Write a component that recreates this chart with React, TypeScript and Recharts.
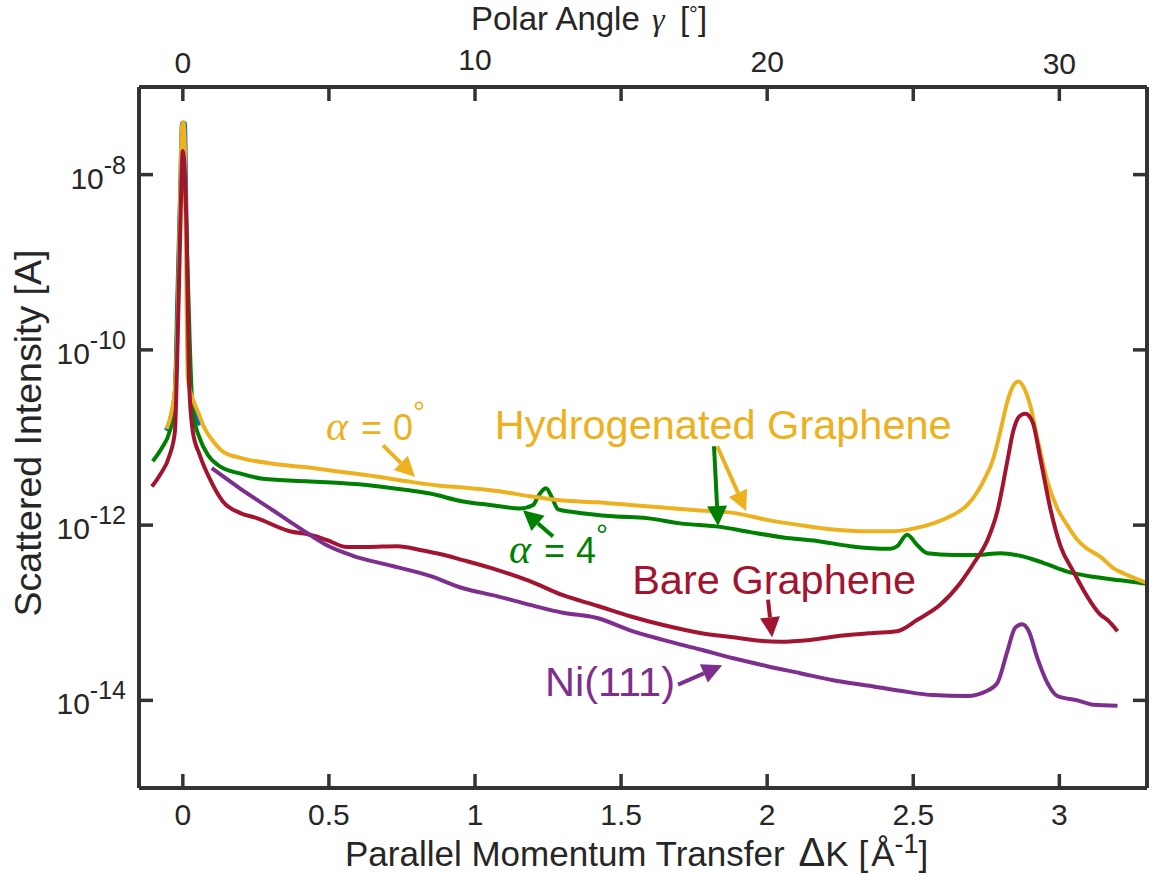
import { LineChart, Line, XAxis, YAxis, ReferenceLine, ReferenceDot } from 'recharts';

// All intensities below are log10 of the current in A
const yellowK = [-0.055, -0.038, -0.027, -0.017, -0.01, -0.003, 0.002, 0.007, 0.013, 0.017, 0.034, 0.051, 0.075, 0.103, 0.137, 0.195, 0.308, 0.425, 0.538, 0.651, 0.767, 0.88, 0.959, 1.075, 1.188, 1.301, 1.418, 1.531, 1.644, 1.76, 1.884, 2.0, 2.113, 2.226, 2.342, 2.421, 2.5, 2.568, 2.627, 2.685, 2.74, 2.774, 2.798, 2.822, 2.842, 2.86, 2.877, 2.901, 2.925, 2.959, 2.993, 3.027, 3.062, 3.096, 3.14, 3.185, 3.233, 3.3];
const yellowLog = [-10.9, -10.7, -10.44, -9.57, -8.43, -7.45, -7.4, -7.68, -9.57, -10.33, -10.56, -10.7, -10.9, -11.04, -11.16, -11.23, -11.3, -11.34, -11.39, -11.44, -11.5, -11.55, -11.57, -11.61, -11.67, -11.72, -11.74, -11.77, -11.8, -11.83, -11.86, -11.94, -12.0, -12.05, -12.07, -12.07, -12.04, -11.98, -11.9, -11.77, -11.5, -11.24, -10.93, -10.59, -10.41, -10.36, -10.42, -10.64, -11.01, -11.5, -11.81, -12.0, -12.17, -12.27, -12.36, -12.49, -12.57, -12.66];

const greenK = [-0.103, -0.072, -0.045, -0.031, -0.021, -0.01, 0, 0.014, 0.024, 0.034, 0.058, 0.086, 0.127, 0.195, 0.274, 0.425, 0.538, 0.651, 0.767, 0.846, 0.959, 1.051, 1.154, 1.199, 1.216, 1.243, 1.264, 1.284, 1.336, 1.473, 1.589, 1.702, 1.839, 1.942, 2.055, 2.171, 2.284, 2.421, 2.445, 2.479, 2.514, 2.548, 2.637, 2.719, 2.798, 2.866, 2.945, 3.027, 3.116, 3.209, 3.3];
const greenLog = [-11.27, -11.12, -10.93, -10.7, -9.95, -8.43, -7.68, -8.81, -9.95, -10.7, -11.01, -11.2, -11.33, -11.41, -11.47, -11.5, -11.52, -11.55, -11.6, -11.64, -11.73, -11.77, -11.81, -11.77, -11.67, -11.58, -11.69, -11.82, -11.85, -11.9, -11.92, -11.98, -12.02, -12.08, -12.14, -12.18, -12.24, -12.27, -12.24, -12.11, -12.23, -12.32, -12.34, -12.34, -12.32, -12.35, -12.43, -12.53, -12.59, -12.63, -12.67];

const redK = [-0.106, -0.079, -0.045, -0.027, -0.021, -0.01, 0, 0.014, 0.021, 0.034, 0.058, 0.092, 0.137, 0.195, 0.253, 0.366, 0.435, 0.493, 0.562, 0.63, 0.733, 0.822, 0.88, 0.959, 1.075, 1.188, 1.301, 1.418, 1.531, 1.644, 1.771, 1.884, 1.976, 2.045, 2.147, 2.26, 2.363, 2.445, 2.514, 2.592, 2.661, 2.712, 2.753, 2.788, 2.822, 2.842, 2.866, 2.884, 2.908, 2.935, 2.969, 3.003, 3.048, 3.106, 3.14, 3.164, 3.199];
const redLog = [-11.56, -11.43, -11.2, -10.93, -10.33, -8.81, -7.73, -8.81, -10.33, -10.93, -11.2, -11.47, -11.73, -11.86, -11.92, -12.07, -12.11, -12.17, -12.25, -12.25, -12.24, -12.29, -12.33, -12.4, -12.51, -12.64, -12.8, -12.92, -13.04, -13.14, -13.23, -13.28, -13.32, -13.33, -13.31, -13.26, -13.23, -13.21, -13.08, -12.91, -12.66, -12.41, -12.18, -11.84, -11.27, -10.93, -10.75, -10.73, -10.82, -11.24, -11.81, -12.23, -12.53, -12.87, -13.02, -13.08, -13.21];

const purpleK = [0.099, 0.195, 0.308, 0.366, 0.425, 0.493, 0.582, 0.709, 0.846, 0.959, 1.075, 1.188, 1.301, 1.418, 1.531, 1.644, 1.771, 1.884, 2.0, 2.113, 2.226, 2.342, 2.455, 2.568, 2.685, 2.753, 2.788, 2.822, 2.849, 2.873, 2.894, 2.925, 2.959, 2.993, 3.062, 3.116, 3.199];
const purpleLog = [-11.35, -11.58, -11.83, -11.96, -12.09, -12.23, -12.35, -12.46, -12.58, -12.72, -12.81, -12.91, -13.0, -13.06, -13.2, -13.31, -13.42, -13.52, -13.61, -13.69, -13.77, -13.83, -13.89, -13.94, -13.95, -13.89, -13.8, -13.44, -13.17, -13.13, -13.2, -13.52, -13.8, -13.95, -14.0, -14.05, -14.06];

const blueK = [-0.058, -0.038, -0.027, -0.019, -0.01, -0.003, 0.007, 0.015, 0.022, 0.034, 0.058];
const blueLog = [-10.92, -10.71, -10.46, -9.42, -8.28, -7.41, -7.41, -9.19, -10.33, -10.61, -10.86];

const kTicks = [0, 0.5, 1, 1.5, 2, 2.5, 3];
const angleTicks = [0, 5, 10, 15, 20, 25, 30];
const intensityExponents = [-14, -12, -10, -8];

const YELLOW = '#EDB120';
const GREEN = '#008000';
const RED = '#A2142F';
const PURPLE = '#7E2F8E';
const BLUE = '#0072BD';
const INK = '#333333';
const SANS = '"Liberation Sans", Arial, sans-serif';
const SERIF = '"Liberation Serif", serif';

const toRows = (k: number[], logs: number[]) => k.map((x, i) => ({ x, y: Math.pow(10, logs[i]) }));
const p = (e: number) => Math.pow(10, e);

// the top labels sit slightly unevenly in the original
const topLabelNudge: Record<number, number> = { 0: 0, 10: -3, 20: -1, 30: 1 };

const BottomTick = ({ x, y, payload }: any) => (
  <g>
    <line x1={x} x2={x} y1={y} y2={y - 14} stroke={INK} strokeWidth={3.5} />
    <text x={x} y={y + 37} textAnchor="middle" fontFamily={SANS} fontSize={30} fill="#262626">{payload.value}</text>
  </g>
);

const TopTick = ({ x, y, payload }: any) => (
  <g>
    <line x1={x} x2={x} y1={y} y2={y + 14} stroke={INK} strokeWidth={3.5} />
    {payload.value % 10 === 0 && (
      <text x={x} y={y - 14 + topLabelNudge[payload.value]} textAnchor="middle" fontFamily={SANS} fontSize={30} fill="#262626">{payload.value}</text>
    )}
  </g>
);

const LeftTick = ({ x, y, payload }: any) => (
  <g>
    <line x1={x} x2={x + 14} y1={y} y2={y} stroke={INK} strokeWidth={3.5} />
    <text x={x - 13} y={y + 14} textAnchor="end" fontFamily={SANS} fontSize={30} fill="#262626">
      10<tspan dy={-15} fontSize={25}>{Math.round(Math.log10(payload.value))}</tspan>
    </text>
  </g>
);

const RightTick = ({ x, y }: any) => (
  <line x1={x} x2={x - 14} y1={y} y2={y} stroke={INK} strokeWidth={3.5} />
);

// arrow head is drawn at the second point of the segment
const arrow = (color: string) => (props: any) => {
  const { x1, y1, x2, y2 } = props;
  const a = Math.atan2(y2 - y1, x2 - x1);
  const len = 20;
  const half = 10;
  const bx = x2 - len * Math.cos(a);
  const by = y2 - len * Math.sin(a);
  const nx = -Math.sin(a) * half;
  const ny = Math.cos(a) * half;
  return (
    <g>
      <line x1={x1} y1={y1} x2={bx} y2={by} stroke={color} strokeWidth={4} />
      <polygon points={`${x2},${y2} ${bx + nx},${by + ny} ${bx - nx},${by - ny}`} fill={color} />
    </g>
  );
};

const note = (text: string, color: string) => (props: any) => (
  <text x={props.cx} y={props.cy} fontFamily={SANS} fontSize={41.5} fill={color}>{text}</text>
);

const alphaNote = (value: string, color: string) => (props: any) => (
  <g fontFamily={SANS} fill={color}>
    <text x={props.cx} y={props.cy} fontFamily={SERIF} fontStyle="italic" fontSize={42}>α</text>
    <text x={props.cx + 35} y={props.cy} fontSize={36}>=</text>
    <text x={props.cx + 67} y={props.cy} fontSize={36}>{value}</text>
    <text x={props.cx + 87} y={props.cy - 18} fontSize={30}>°</text>
  </g>
);

const seriesLine = (key: string, k: number[], logs: number[], color: string) => (
  <Line
    key={key}
    xAxisId="bottom"
    yAxisId="left"
    data={toRows(k, logs)}
    dataKey="y"
    type="monotone"
    stroke={color}
    strokeWidth={4}
    dot={false}
    isAnimationActive={false}
  />
);

const App = () => {
  return (
    <div style={{ position: 'absolute', left: 0, top: 0, width: 1167, height: 875, background: '#fff' }}>
      <LineChart width={1167} height={875} margin={{ top: 0, right: 0, bottom: 0, left: 0 }}>
        <XAxis
          xAxisId="bottom"
          type="number"
          dataKey="x"
          domain={[-0.15, 3.3]}
          allowDataOverflow
          ticks={kTicks}
          interval={0}
          height={87}
          tickSize={0}
          tickMargin={0}
          tickLine={false}
          axisLine={{ stroke: INK, strokeWidth: 4 }}
          tick={<BottomTick />}
          label={{
            content: () => (
              <text x={345} y={866} fontFamily={SANS} fontSize={35} fill="#262626">
                Parallel Momentum Transfer
                <tspan dx={14} fontSize={40}>Δ</tspan>
                <tspan>K [</tspan>
                <tspan dx={3}>Å</tspan>
                <tspan dy={-13} fontSize={27}>-1</tspan>
                <tspan dy={13}>]</tspan>
              </text>
            ),
          }}
        />
        <XAxis
          xAxisId="top"
          orientation="top"
          type="number"
          dataKey="x"
          domain={[-1.5, 33]}
          allowDataOverflow
          ticks={angleTicks}
          interval={0}
          height={87}
          tickSize={0}
          tickMargin={0}
          tickLine={false}
          axisLine={{ stroke: INK, strokeWidth: 4 }}
          tick={<TopTick />}
          label={{
            content: () => (
              <g fontFamily={SANS} fontSize={33} fill="#262626">
                <text x={471} y={30}>Polar Angle</text>
                <text x={652} y={30} fontFamily={SERIF} fontStyle="italic" fontSize={32}>γ</text>
                <text x={680} y={30}>[</text>
                <text x={689} y={22} fontSize={22}>°</text>
                <text x={698} y={30}>]</text>
              </g>
            ),
          }}
        />
        <YAxis
          yAxisId="left"
          scale="log"
          domain={[1e-15, 1e-7]}
          allowDataOverflow
          ticks={intensityExponents.map(p)}
          interval={0}
          width={139}
          tickSize={0}
          tickMargin={0}
          tickLine={false}
          axisLine={{ stroke: INK, strokeWidth: 4 }}
          tick={<LeftTick />}
          label={{
            content: () => (
              <text x={41} y={433} transform="rotate(-90 41 433)" textAnchor="middle" fontFamily={SANS} fontSize={37.5} fill="#262626">
                Scattered Intensity [A]
              </text>
            ),
          }}
        />
        <YAxis
          yAxisId="right"
          orientation="right"
          scale="log"
          domain={[1e-15, 1e-7]}
          allowDataOverflow
          ticks={intensityExponents.map(p)}
          interval={0}
          width={20}
          tickSize={0}
          tickMargin={0}
          tickLine={false}
          axisLine={{ stroke: INK, strokeWidth: 4 }}
          tick={<RightTick />}
        />

        {/* nothing visible, it only gives the top axis a domain to work from */}
        <Line
          xAxisId="top"
          yAxisId="right"
          data={angleTicks.map((x) => ({ x, y: 1e-10 }))}
          dataKey="y"
          stroke="none"
          dot={false}
          isAnimationActive={false}
        />

        {seriesLine('blue', blueK, blueLog, BLUE)}
        {seriesLine('green', greenK, greenLog, GREEN)}
        {seriesLine('yellow', yellowK, yellowLog, YELLOW)}
        {seriesLine('red', redK, redLog, RED)}
        {seriesLine('purple', purpleK, purpleLog, PURPLE)}

        <ReferenceLine xAxisId="bottom" yAxisId="left" segment={[{ x: 0.685, y: p(-11.09) }, { x: 0.795, y: p(-11.45) }]} shape={arrow(YELLOW)} ifOverflow="visible" />
        <ReferenceLine xAxisId="bottom" yAxisId="left" segment={[{ x: 1.829, y: p(-11.1) }, { x: 1.928, y: p(-11.84) }]} shape={arrow(YELLOW)} ifOverflow="visible" />
        <ReferenceLine xAxisId="bottom" yAxisId="left" segment={[{ x: 1.818, y: p(-11.1) }, { x: 1.832, y: p(-12.01) }]} shape={arrow(GREEN)} ifOverflow="visible" />
        <ReferenceLine xAxisId="bottom" yAxisId="left" segment={[{ x: 1.267, y: p(-12.13) }, { x: 1.164, y: p(-11.83) }]} shape={arrow(GREEN)} ifOverflow="visible" />
        <ReferenceLine xAxisId="bottom" yAxisId="left" segment={[{ x: 2.003, y: p(-12.85) }, { x: 2.017, y: p(-13.28) }]} shape={arrow(RED)} ifOverflow="visible" />
        <ReferenceLine xAxisId="bottom" yAxisId="left" segment={[{ x: 1.695, y: p(-13.82) }, { x: 1.846, y: p(-13.6) }]} shape={arrow(PURPLE)} ifOverflow="visible" />

        <ReferenceDot xAxisId="bottom" yAxisId="left" x={1.068} y={p(-11.02)} shape={note('Hydrogenated Graphene', YELLOW)} ifOverflow="visible" />
        <ReferenceDot xAxisId="bottom" yAxisId="left" x={1.538} y={p(-12.79)} shape={note('Bare Graphene', RED)} ifOverflow="visible" />
        <ReferenceDot xAxisId="bottom" yAxisId="left" x={1.24} y={p(-13.95)} shape={note('Ni(111)', PURPLE)} ifOverflow="visible" />
        <ReferenceDot xAxisId="bottom" yAxisId="left" x={0.49} y={p(-11.03)} shape={alphaNote('0', YELLOW)} ifOverflow="visible" />
        <ReferenceDot xAxisId="bottom" yAxisId="left" x={1.116} y={p(-12.43)} shape={alphaNote('4', GREEN)} ifOverflow="visible" />
      </LineChart>
    </div>
  );
};

export default App;
